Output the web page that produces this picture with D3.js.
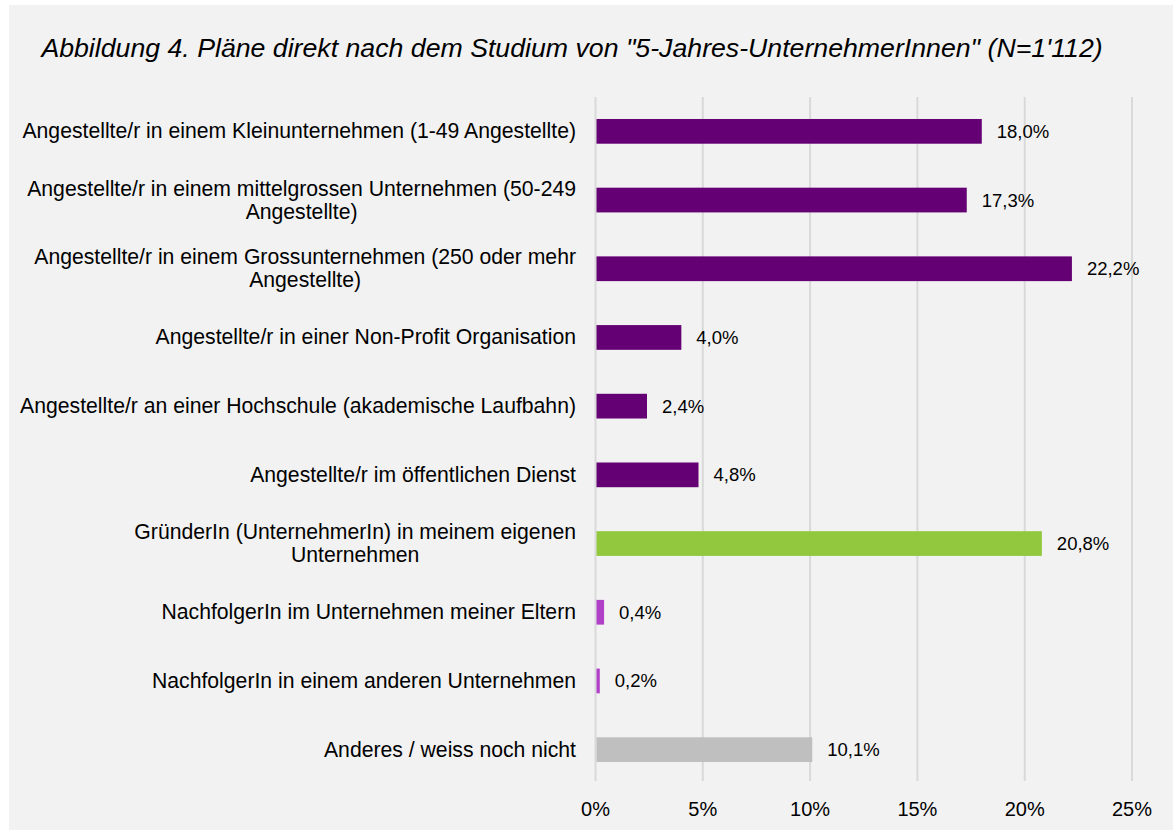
<!DOCTYPE html>
<html>
<head>
<meta charset="utf-8">
<script src="https://cdn.jsdelivr.net/npm/d3@7"></script>
<style>
  body { margin: 0; background: #fff; }
  text { font-family: "Liberation Sans", Arial, sans-serif; fill: #000; }
</style>
</head>
<body>
<svg id="chart" width="1173" height="830"></svg>
<script>
// category labels, split into the lines shown in the chart
const categories = [
  ['Angestellte/r in einem Kleinunternehmen (1-49 Angestellte)'],
  ['Angestellte/r in einem mittelgrossen Unternehmen (50-249', 'Angestellte)'],
  ['Angestellte/r in einem Grossunternehmen (250 oder mehr', 'Angestellte)'],
  ['Angestellte/r in einer Non-Profit Organisation'],
  ['Angestellte/r an einer Hochschule (akademische Laufbahn)'],
  ['Angestellte/r im öffentlichen Dienst'],
  ['GründerIn (UnternehmerIn) in meinem eigenen', 'Unternehmen'],
  ['NachfolgerIn im Unternehmen meiner Eltern'],
  ['NachfolgerIn in einem anderen Unternehmen'],
  ['Anderes / weiss noch nicht']
];
const values = [18.0, 17.3, 22.2, 4.0, 2.4, 4.8, 20.8, 0.4, 0.2, 10.1];
const groups = ['employed', 'employed', 'employed', 'employed', 'employed', 'employed',
                'founder', 'successor', 'successor', 'other'];
const xTicks = [0, 5, 10, 15, 20, 25];

const colors = {
  employed: '#640073',
  founder: '#92c83e',
  successor: '#b040c8',
  other: '#bfbfbf'
};

const svg = d3.select('#chart');

// grey panel
svg.append('rect')
  .attr('x', 9).attr('y', 5)
  .attr('width', 1173 - 9).attr('height', 830 - 5)
  .attr('fill', '#f2f2f2');

svg.append('text')
  .attr('x', 572).attr('y', 57)
  .attr('text-anchor', 'middle')
  .style('font-size', '26.7px')
  .style('font-style', 'italic')
  .text('Abbildung 4. Pläne direkt nach dem Studium von "5-Jahres-UnternehmerInnen" (N=1\'112)');

const x = d3.scaleLinear().domain([0, 25]).range([595.5, 1132]);
const y = d3.scaleBand().domain(d3.range(values.length)).range([97, 784])
  .paddingInner(0.64).paddingOuter(0.32);

// gridlines
svg.append('g')
  .selectAll('line')
  .data(xTicks)
  .join('line')
  .attr('x1', d => x(d)).attr('x2', d => x(d))
  .attr('y1', 97).attr('y2', 781)
  .attr('stroke', '#d9d9d9')
  .attr('stroke-width', 2);

// x tick labels
svg.append('g')
  .selectAll('text')
  .data(xTicks)
  .join('text')
  .attr('x', d => x(d))
  .attr('y', 816)
  .attr('text-anchor', 'middle')
  .style('font-size', '20px')
  .text(d => d + '%');

// bars
svg.append('g')
  .selectAll('rect')
  .data(values)
  .join('rect')
  .attr('x', x(0) + 1)
  .attr('y', (d, i) => y(i))
  .attr('width', d => x(d) - x(0) - 1)
  .attr('height', y.bandwidth())
  .attr('fill', (d, i) => colors[groups[i]]);

// value labels
svg.append('g')
  .selectAll('text')
  .data(values)
  .join('text')
  .attr('x', d => x(d) + 15)
  .attr('y', (d, i) => y(i) + y.bandwidth() / 2 + 6.5)
  .style('font-size', '18.5px')
  .text(d => d.toFixed(1).replace('.', ',') + '%');

// category labels: block is right-aligned, lines inside it are centred
const lineH = 23;
const labelRight = 576;
svg.append('g')
  .selectAll('text')
  .data(categories)
  .join('text')
  .attr('y', (d, i) => y(i) + y.bandwidth() / 2 + 7 - (d.length - 1) * lineH / 2)
  .attr('text-anchor', 'middle')
  .style('font-size', '21.2px')
  .each(function (d) {
    const t = d3.select(this);
    t.selectAll('tspan')
      .data(d)
      .join('tspan')
      .attr('dy', (s, j) => j === 0 ? 0 : lineH)
      .text(s => s);
    const w = d3.max(t.selectAll('tspan').nodes(), n => n.getComputedTextLength());
    t.selectAll('tspan').attr('x', labelRight - w / 2);
  });
</script>
</body>
</html>
